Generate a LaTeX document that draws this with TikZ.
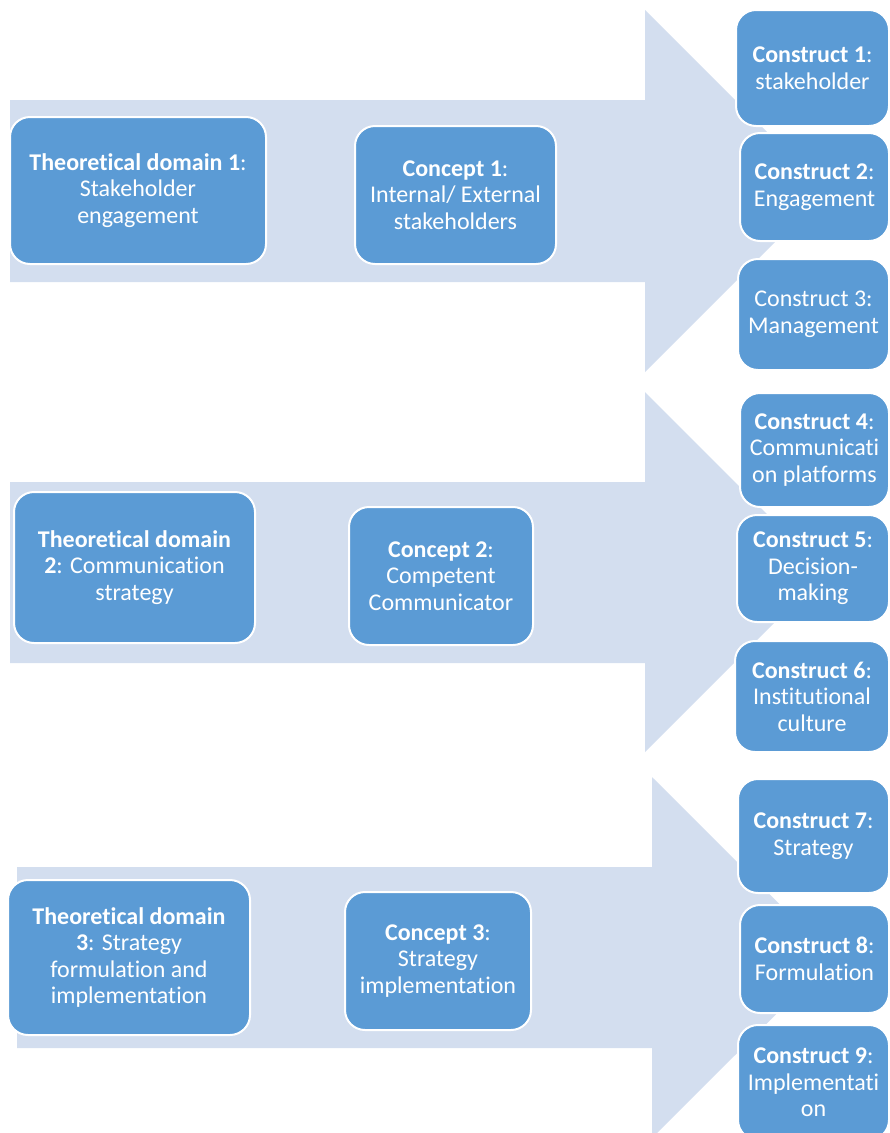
\documentclass[tikz,border=0pt]{standalone}
\usepackage{fontspec}
\setmainfont{Carlito}[Ligatures=NoCommon]
\definecolor{boxblue}{HTML}{5B9BD5}
\definecolor{arrowgrey}{HTML}{D3DEEF}
\tikzset{
  box/.style={rectangle, rounded corners=20pt, fill=boxblue, draw=white,
    line width=2pt, text=white, align=center, inner sep=1pt,
    font=\fontsize{24}{26.5}\selectfont},
  bigarrow/.style={fill=arrowgrey, draw=none}
}
\begin{document}
\begin{tikzpicture}[x=1pt,y=-1pt]
    \useasboundingbox (0,0) rectangle (890,1133);
    \clip (0,0) rectangle (890,1133);

    % Row 1: stakeholder engagement
    \begin{scope}
      \fill[bigarrow] (10,100) -- (645,100) -- (645,10) -- (826,191) -- (645,372) -- (645,282) -- (10,282) -- cycle; % Arrow
      \node[box, minimum width=256, minimum height=147] (dom1) at (138,190.5) {\textbf{Theoretical domain 1}:\\Stakeholder\\engagement};
      \node[box, minimum width=201, minimum height=138] (con1) at (455.5,195) {\textbf{Concept 1}:\\Internal/ External\\stakeholders};
      \node[box, minimum width=153, minimum height=116] (cst1) at (812.5,68) {\textbf{Construct 1}:\\stakeholder};
      \node[box, minimum width=149, minimum height=108] (cst2) at (814.5,187) {\textbf{Construct 2}:\\Engagement};
      \node[box, minimum width=151, minimum height=111] (cst3) at (813.5,314.5) {Construct 3:\\Management};
    \end{scope}

    % Row 2: communication strategy
    \begin{scope}
      \fill[bigarrow] (10,482) -- (645,482) -- (645,392) -- (825,572) -- (645,752) -- (645,663) -- (10,663) -- cycle;
      \node[box, minimum width=241, minimum height=151] (dom2) at (134.5,567.5) {\textbf{Theoretical domain}\\\textbf{2}: Communication\\strategy};
      \node[box, minimum width=184, minimum height=138] (con2) at (441,576) {\textbf{Concept 2}:\\Competent\\Communicator};
      \node[box, minimum width=149, minimum height=114] (cst4) at (814.5,450) {\textbf{Construct 4}:\\Communicati\\on platforms};
      \node[box, minimum width=152, minimum height=107] (cst5) at (813,568.5) {\textbf{Construct 5}:\\Decision-\\making};
      \node[box, minimum width=154, minimum height=111] (cst6) at (812,696.5) {\textbf{Construct 6}:\\Institutional\\culture};
    \end{scope}

    % Row 3: strategy formulation and implementation
    \begin{scope}
      \fill[bigarrow] (17,867) -- (652,867) -- (652,777) -- (833,957.5) -- (652,1138) -- (652,1048) -- (17,1048) -- cycle;
      \node[box, minimum width=242, minimum height=155] (dom3) at (129,957.5) {\textbf{Theoretical domain}\\\textbf{3}: Strategy\\formulation and\\implementation};
      \node[box, minimum width=186, minimum height=138] (con3) at (438,961) {\textbf{Concept 3}:\\Strategy\\implementation};
      \node[box, minimum width=151, minimum height=114] (cst7) at (813.5,836) {\textbf{Construct 7}:\\Strategy};
      \node[box, minimum width=149, minimum height=108] (cst8) at (814.5,959) {\textbf{Construct 8}:\\Formulation};
      \node[box, minimum width=151, minimum height=115] (cst9) at (813.5,1082.5) {\textbf{Construct 9}:\\Implementati\\on};
    \end{scope}
  \end{tikzpicture}
\end{document}
